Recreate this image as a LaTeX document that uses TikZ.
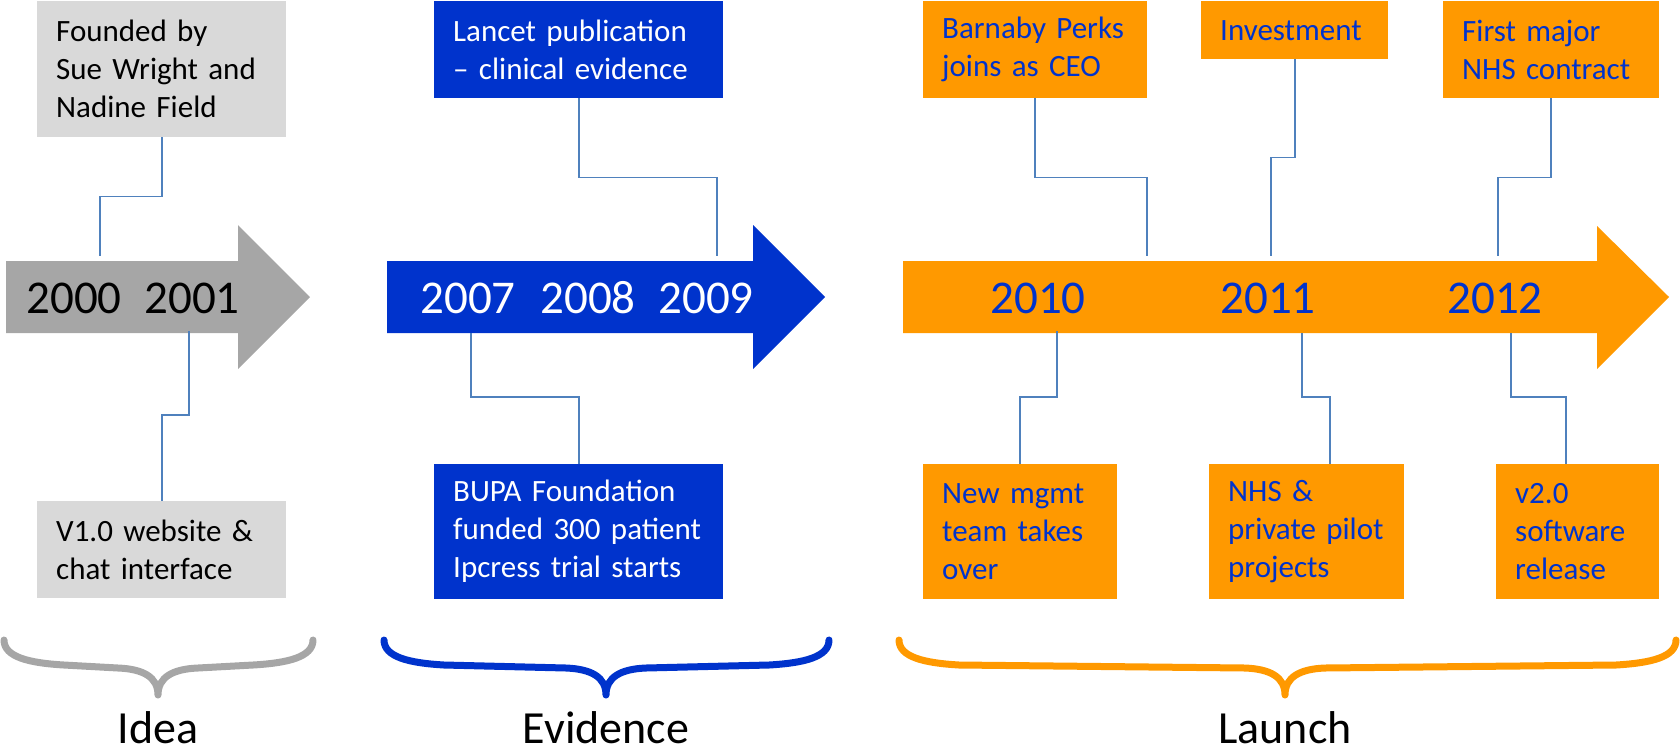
\documentclass[tikz,border=0pt]{standalone}
\usepackage{fontspec}
\setmainfont{Carlito}
\definecolor{boxgrey}{HTML}{D9D9D9}
\definecolor{arrgrey}{HTML}{A6A6A6}
\definecolor{myblue}{HTML}{0033CC}
\definecolor{myorange}{HTML}{FF9900}
\definecolor{linecol}{HTML}{4F81BD}
\newcommand\drawbrace[4]{\draw[brace, draw=#4] (#1,640) .. controls (#1,657) and ({#1+25},663) .. ({#1+60},665) -- ({#2-40},668) .. controls ({#2-15},669) and (#2,677) .. (#2,695) .. controls (#2,677) and ({#2+15},669) .. ({#2+40},668) -- ({#3-60},665) .. controls ({#3-25},663) and (#3,657) .. (#3,640);}
\tikzset{
 conn/.style={draw=linecol, line width=1.8pt},
 box/.style={rectangle, anchor=north west, inner xsep=19pt, inner ysep=0pt, align=left, font=\fontsize{31}{38}\selectfont},
 gbox/.style={box, fill=boxgrey, text=black},
 bbox/.style={box, fill=myblue, text=white},
 obox/.style={box, fill=myorange, text=myblue},
 year/.style={font=\fontsize{47}{50}\selectfont, anchor=base, inner sep=0pt},
 phase/.style={font=\fontsize{46}{50}\selectfont, anchor=base, inner sep=0pt, text=black},
 brace/.style={line width=7pt, line cap=round, line join=round},
}
\begin{document}
\begin{tikzpicture}[x=1pt,y=-1pt]
\useasboundingbox (0,0) rectangle (1680,755);
% arrows
\fill[arrgrey] (6,261) -- (238,261) -- (238,225) -- (310,297) -- (238,369) -- (238,333) -- (6,333) -- cycle;
\fill[myblue] (387,261) -- (753,261) -- (753,225) -- (825,297) -- (753,369) -- (753,333) -- (387,333) -- cycle;
\fill[myorange] (903,261) -- (1597,261) -- (1597,226) -- (1669,297) -- (1597,369) -- (1597,333) -- (903,333) -- cycle;
% years
\node[year, text=black] (y2000) at (74,313) {2000};
\node[year, text=black] (y2001) at (192,313) {2001};
\node[year, text=white] (y2007) at (468,313) {2007};
\node[year, text=white] (y2008) at (588,313) {2008};
\node[year, text=white] (y2009) at (706,313) {2009};
\node[year, text=myblue] (y2010) at (1038,313) {2010};
\node[year, text=myblue] (y2011) at (1268,313) {2011};
\node[year, text=myblue] (y2012) at (1495,313) {2012};
% boxes
\node[gbox, minimum height=136pt, text width=211pt] (founded) at (37,1) {Founded by\\Sue Wright and\\Nadine Field};
\node[gbox, minimum height=97pt, text width=211pt] (v1) at (37,501) {V1.0 website \&\\chat interface};
\node[bbox, minimum height=97pt, text width=251pt] (lancet) at (434,1) {Lancet publication\\– clinical evidence};
\node[bbox, minimum height=135pt, text width=251pt] (bupa) at (434,464) {BUPA Foundation\\funded 300 patient\\Ipcress trial starts};
\node[obox, minimum height=97pt, text width=186pt] (barnaby) at (923,1) {Barnaby Perks\\joins as CEO};
\node[obox, minimum height=58pt, text width=149pt] (invest) at (1201,1) {Investment};
\node[obox, minimum height=97pt, text width=178pt] (first) at (1443,1) {First major\\NHS contract};
\node[obox, minimum height=135pt, text width=156pt] (newm) at (923,464) {New mgmt\\team takes\\over};
\node[obox, minimum height=135pt, text width=157pt] (nhs) at (1209,464) {NHS \&\\private pilot\\projects};
\node[obox, minimum height=135pt, text width=125pt] (v2) at (1496,464) {v2.0\\software\\release};
% connector ends
\coordinate (cF) at (100,256);
\coordinate (cL) at (717,256);
\coordinate (cB1) at (1147,256);
\coordinate (cI) at (1271,256);
\coordinate (cM) at (1498,256);
\coordinate (s2001) at (189,331);
\coordinate (s2007) at (471,333);
\coordinate (s2010) at (1057,331);
\coordinate (s2011) at (1302,333);
\coordinate (s2012) at (1511,333);
\coordinate (eN) at (1330,464);
\coordinate (eV) at (1566,464);
% connectors
\draw[conn] (founded.south) -- ++(0,59) -| (cF);
\draw[conn] (s2001) -- (189,415) -| (v1.north);
\draw[conn] (lancet.south) -- ++(0,79) -| (cL);
\draw[conn] (s2007) -- (471,397) -| (bupa.north);
\draw[conn] (barnaby.south) -- ++(0,79) -| (cB1);
\draw[conn] (invest.south) -- ++(0,98) -| (cI);
\draw[conn] (first.south) -- ++(0,79) -| (cM);
\draw[conn] (s2010) -- (1057,397) -| (newm.north);
\draw[conn] (s2011) -- (1302,397) -| (eN);
\draw[conn] (s2012) -- (1511,397) -| (eV);
% braces
\drawbrace{4}{158}{313}{arrgrey}
\drawbrace{384}{606}{829}{myblue}
\drawbrace{899}{1285}{1676}{myorange}
% phase labels
\node[phase] (idea) at (158,743) {Idea};
\node[phase] (evidence) at (606,743) {Evidence};
\node[phase] (launch) at (1285,743) {Launch};
\end{tikzpicture}
\end{document}
